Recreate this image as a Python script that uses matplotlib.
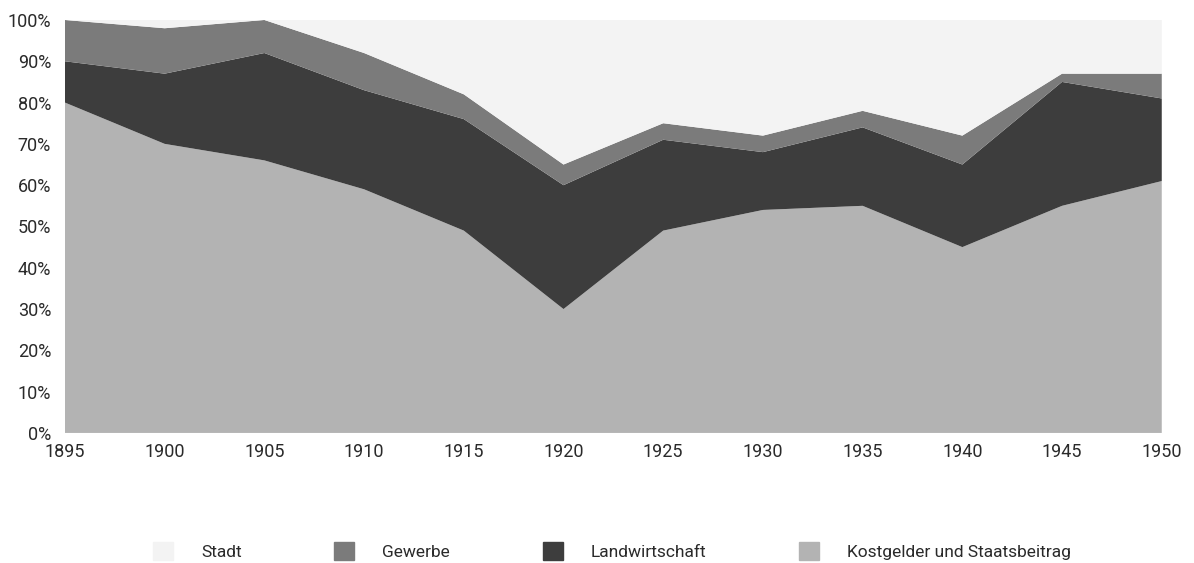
import matplotlib
matplotlib.use('Agg')
import matplotlib.pyplot as plt
from matplotlib.patches import Patch

# years and shares (percent) per source
years = [1895, 1900, 1905, 1910, 1915, 1920, 1925, 1930, 1935, 1940, 1945, 1950]
kostgelder = [80, 70, 66, 59, 49, 30, 49, 54, 55, 45, 55, 61]
landwirtschaft = [10, 17, 26, 24, 27, 30, 22, 14, 19, 20, 30, 20]
gewerbe = [10, 11, 8, 9, 6, 5, 4, 4, 4, 7, 2, 6]
stadt = [0, 2, 0, 8, 18, 35, 25, 28, 22, 28, 13, 13]

labels = ['Kostgelder und Staatsbeitrag', 'Landwirtschaft', 'Gewerbe', 'Stadt']
colors = ['#b3b3b3', '#3d3d3d', '#7b7b7b', '#f3f3f3']

plt.rcParams['font.family'] = ['Roboto', 'DejaVu Sans']

fig = plt.figure(figsize=(11.94, 5.63), dpi=100)
ax = fig.add_axes([0.0544, 0.231, 0.9186, 0.7335])

ax.stackplot(years, kostgelder, landwirtschaft, gewerbe, stadt,
             colors=colors, linewidth=0)

ax.set_xlim(1895, 1950)
ax.set_ylim(0, 100)
ax.set_xticks(years)
ax.set_yticks(range(0, 101, 10))
ax.set_yticklabels(['%d%%' % v for v in range(0, 101, 10)])
ax.tick_params(length=0, labelsize=13, colors='#2a2a2a')
ax.tick_params(axis='y', pad=10)
ax.tick_params(axis='x', pad=7)
for s in ax.spines.values():
    s.set_visible(False)

# legend order as in the original: top layer first
handles = [Patch(color=colors[i]) for i in [3, 2, 1, 0]]
names = [labels[i] for i in [3, 2, 1, 0]]
fig.legend(handles, names, loc='center', bbox_to_anchor=(0.5126, 0.021), ncol=4,
           frameon=False, fontsize=12.5, handlelength=1.15, handleheight=1.15,
           handletextpad=1.6, columnspacing=5.35, labelcolor='#2a2a2a',
           borderpad=0, borderaxespad=0)

fig.savefig('out.png', dpi=100)
